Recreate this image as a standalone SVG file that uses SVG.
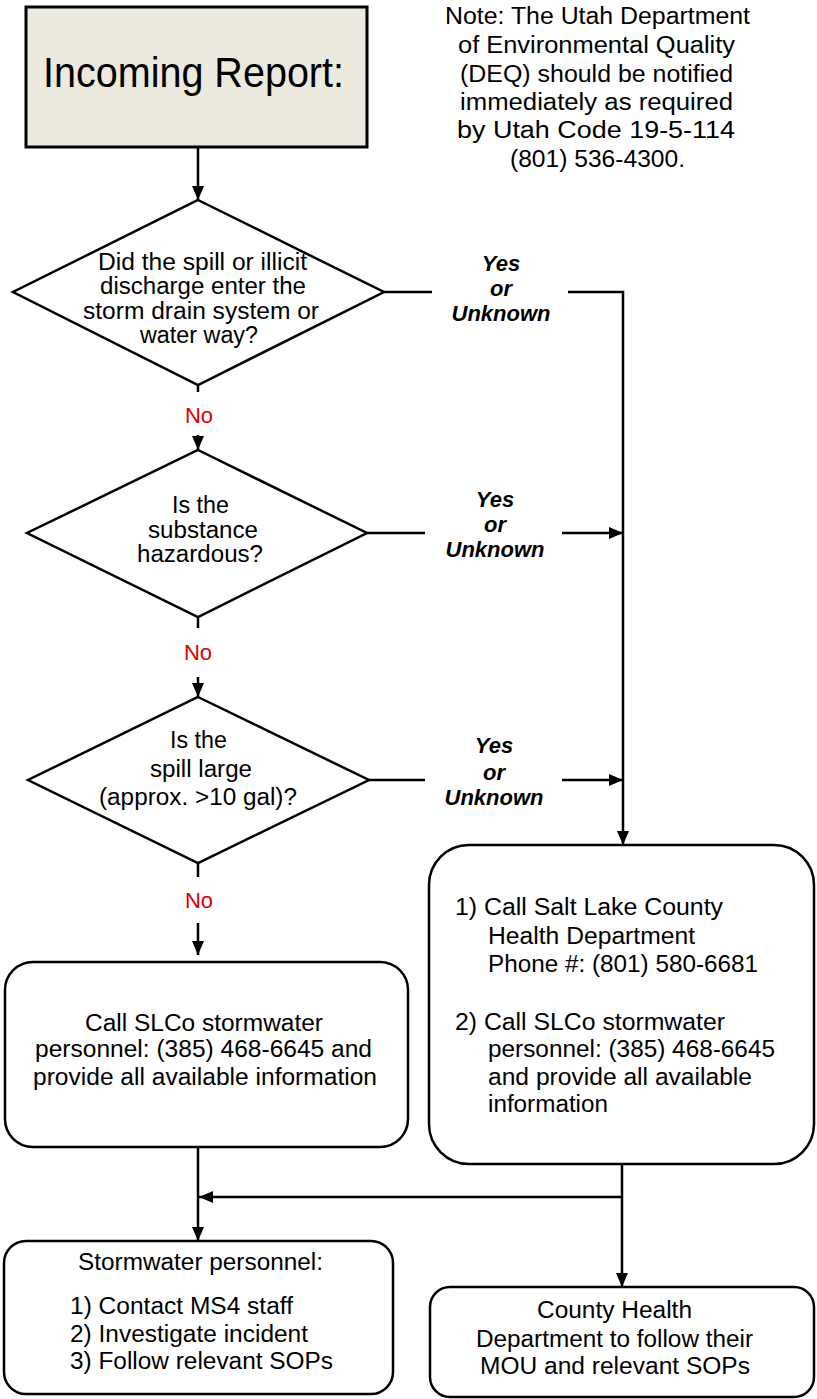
<svg xmlns="http://www.w3.org/2000/svg" width="817" height="1399" viewBox="0 0 817 1399">
<style>
  .t { font-family: "Liberation Sans", Arial, sans-serif; font-size: 23px; fill: #000; }
  .lbl { font-family: "Liberation Sans", Arial, sans-serif; font-size: 22px; font-weight: bold; font-style: italic; fill: #000; text-anchor: middle; }
  .no { font-family: "Liberation Sans", Arial, sans-serif; font-size: 22px; fill: #e00000; text-anchor: middle; }
  .shape { fill: #fff; stroke: #000; stroke-width: 2.5; }
  .conn { fill: none; stroke: #000; stroke-width: 2.5; }
</style>
<defs>
  <marker id="arr" markerUnits="userSpaceOnUse" markerWidth="14" markerHeight="12" refX="14" refY="6" orient="auto">
    <path d="M0,0 L14,6 L0,12 z" fill="#000"/>
  </marker>
</defs>
<rect width="817" height="1399" fill="#fff"/>

<g id="incoming">
  <rect x="26" y="7" width="341" height="140" fill="#ECE9DF" stroke="#000" stroke-width="3"/>
  <text class="t" x="43" y="87" style="font-size:43px" textLength="301" lengthAdjust="spacingAndGlyphs">Incoming Report:</text>
</g>

<g id="note">
  <text class="t" x="445" y="24" textLength="305" lengthAdjust="spacingAndGlyphs">Note: The Utah Department</text>
  <text class="t" x="458" y="53" textLength="277" lengthAdjust="spacingAndGlyphs">of Environmental Quality</text>
  <text class="t" x="460" y="82" textLength="273" lengthAdjust="spacingAndGlyphs">(DEQ) should be notified</text>
  <text class="t" x="460" y="110" textLength="273" lengthAdjust="spacingAndGlyphs">immediately as required</text>
  <text class="t" x="457" y="138" textLength="278" lengthAdjust="spacingAndGlyphs">by Utah Code 19-5-114</text>
  <text class="t" x="510" y="167" textLength="175" lengthAdjust="spacingAndGlyphs">(801) 536-4300.</text>
</g>

<g id="q1">
  <polygon class="shape" points="198,200 384,292 198,385 13,292"/>
  <text class="t" x="98" y="270" textLength="209" lengthAdjust="spacingAndGlyphs">Did the spill or illicit</text>
  <text class="t" x="100" y="294" textLength="206" lengthAdjust="spacingAndGlyphs">discharge enter the</text>
  <text class="t" x="83" y="319" textLength="236" lengthAdjust="spacingAndGlyphs">storm drain system or</text>
  <text class="t" x="140" y="343" textLength="118" lengthAdjust="spacingAndGlyphs">water way?</text>
</g>

<g id="q2">
  <polygon class="shape" points="198,450 367,533 198,617 27,533"/>
  <text class="t" x="172" y="513" textLength="57" lengthAdjust="spacingAndGlyphs">Is the</text>
  <text class="t" x="148" y="538" textLength="110" lengthAdjust="spacingAndGlyphs">substance</text>
  <text class="t" x="137" y="562" textLength="126" lengthAdjust="spacingAndGlyphs">hazardous?</text>
</g>

<g id="q3">
  <polygon class="shape" points="198,697 369,780 198,863 28,780"/>
  <text class="t" x="170" y="748" textLength="57" lengthAdjust="spacingAndGlyphs">Is the</text>
  <text class="t" x="150" y="777" textLength="102" lengthAdjust="spacingAndGlyphs">spill large</text>
  <text class="t" x="99" y="805" textLength="198" lengthAdjust="spacingAndGlyphs">(approx. &gt;10 gal)?</text>
</g>

<g id="call-slco">
  <rect class="shape" x="5" y="962" width="403" height="185" rx="28" ry="28"/>
  <text class="t" x="85" y="1031" textLength="238" lengthAdjust="spacingAndGlyphs">Call SLCo stormwater</text>
  <text class="t" x="35" y="1057" textLength="337" lengthAdjust="spacingAndGlyphs">personnel: (385) 468-6645 and</text>
  <text class="t" x="33" y="1085" textLength="344" lengthAdjust="spacingAndGlyphs">provide all available information</text>
</g>

<g id="call-health">
  <rect class="shape" x="429" y="845" width="385" height="319" rx="40" ry="40"/>
  <text class="t" x="455" y="915" textLength="268" lengthAdjust="spacingAndGlyphs">1) Call Salt Lake County</text>
  <text class="t" x="488" y="944" textLength="207" lengthAdjust="spacingAndGlyphs">Health Department</text>
  <text class="t" x="488" y="972" textLength="270" lengthAdjust="spacingAndGlyphs">Phone #: (801) 580-6681</text>
  <text class="t" x="455" y="1030" textLength="270" lengthAdjust="spacingAndGlyphs">2) Call SLCo stormwater</text>
  <text class="t" x="488" y="1057" textLength="287" lengthAdjust="spacingAndGlyphs">personnel: (385) 468-6645</text>
  <text class="t" x="488" y="1085" textLength="264" lengthAdjust="spacingAndGlyphs">and provide all available</text>
  <text class="t" x="488" y="1112" textLength="120" lengthAdjust="spacingAndGlyphs">information</text>
</g>

<g id="stormwater">
  <rect class="shape" x="4" y="1241" width="389" height="153" rx="22" ry="22"/>
  <text class="t" x="78" y="1270" textLength="245" lengthAdjust="spacingAndGlyphs">Stormwater personnel:</text>
  <text class="t" x="70" y="1314" textLength="223" lengthAdjust="spacingAndGlyphs">1) Contact MS4 staff</text>
  <text class="t" x="70" y="1342" textLength="238" lengthAdjust="spacingAndGlyphs">2) Investigate incident</text>
  <text class="t" x="70" y="1369" textLength="263" lengthAdjust="spacingAndGlyphs">3) Follow relevant SOPs</text>
</g>

<g id="county-health">
  <rect class="shape" x="430" y="1287" width="384" height="110" rx="20" ry="20"/>
  <text class="t" x="537" y="1318" textLength="155" lengthAdjust="spacingAndGlyphs">County Health</text>
  <text class="t" x="476" y="1347" textLength="277" lengthAdjust="spacingAndGlyphs">Department to follow their</text>
  <text class="t" x="480" y="1374" textLength="270" lengthAdjust="spacingAndGlyphs">MOU and relevant SOPs</text>
</g>

<g id="connectors">
  <line class="conn" x1="198" y1="147" x2="198" y2="200" marker-end="url(#arr)"/>
  <line class="conn" x1="198" y1="385" x2="198" y2="392"/>
  <line class="conn" x1="198" y1="435" x2="198" y2="450" marker-end="url(#arr)"/>
  <line class="conn" x1="198" y1="617" x2="198" y2="628"/>
  <line class="conn" x1="198" y1="677" x2="198" y2="697" marker-end="url(#arr)"/>
  <line class="conn" x1="198" y1="863" x2="198" y2="877"/>
  <line class="conn" x1="198" y1="923" x2="198" y2="955" marker-end="url(#arr)"/>

  <line class="conn" x1="384" y1="292" x2="432" y2="292"/>
  <polyline class="conn" points="568,292 623,292 623,845" marker-end="url(#arr)"/>
  <line class="conn" x1="367" y1="533" x2="425" y2="533"/>
  <line class="conn" x1="562" y1="533" x2="623" y2="533" marker-end="url(#arr)"/>
  <line class="conn" x1="369" y1="780" x2="425" y2="780"/>
  <line class="conn" x1="562" y1="780" x2="623" y2="780" marker-end="url(#arr)"/>

  <line class="conn" x1="198" y1="1147" x2="198" y2="1241" marker-end="url(#arr)"/>
  <line class="conn" x1="622" y1="1164" x2="622" y2="1287" marker-end="url(#arr)"/>
  <line class="conn" x1="622" y1="1197" x2="199" y2="1197" marker-end="url(#arr)"/>

  <text class="lbl" x="501" y="271">Yes</text>
  <text class="lbl" x="501" y="296">or</text>
  <text class="lbl" x="501" y="321">Unknown</text>
  <text class="lbl" x="495" y="507">Yes</text>
  <text class="lbl" x="495" y="532">or</text>
  <text class="lbl" x="495" y="557">Unknown</text>
  <text class="lbl" x="494" y="753">Yes</text>
  <text class="lbl" x="494" y="780">or</text>
  <text class="lbl" x="494" y="805">Unknown</text>

  <text class="no" x="199" y="423">No</text>
  <text class="no" x="198" y="660">No</text>
  <text class="no" x="199" y="908">No</text>
</g>
</svg>
